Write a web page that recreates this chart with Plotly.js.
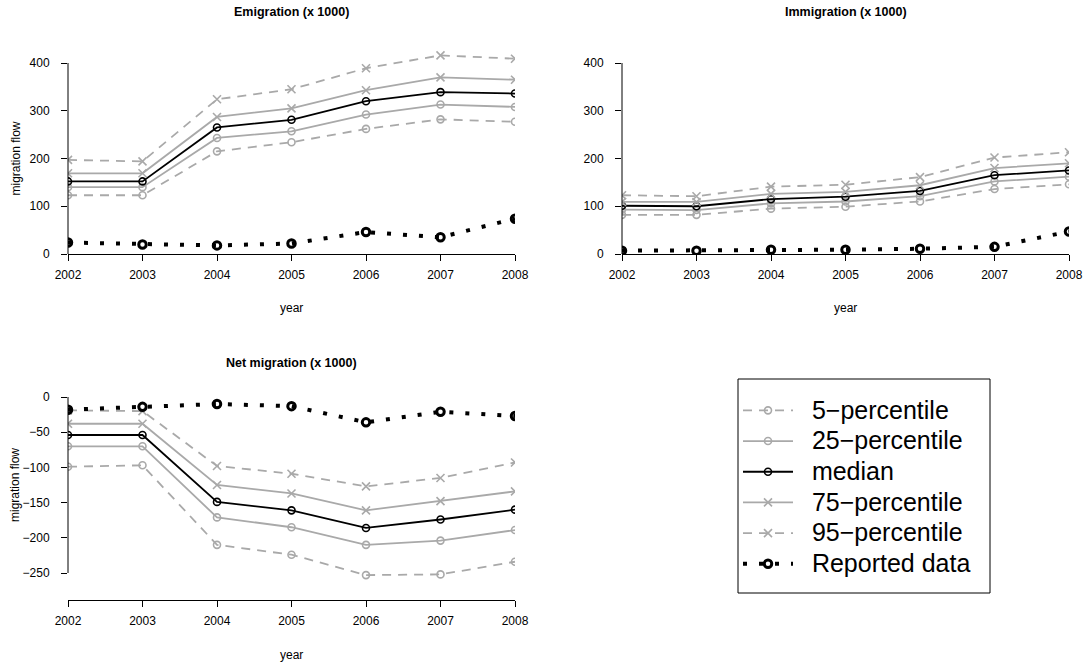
<!DOCTYPE html>
<html><head><meta charset="utf-8">
<script src="https://cdn.plot.ly/plotly-3.0.1.min.js"></script>
<style>html,body{margin:0;padding:0;background:#fff}#chart{width:1089px;height:666px}</style>
</head><body><div id="chart"></div>
<script>
// ---- data ----
const years = [2002, 2003, 2004, 2005, 2006, 2007, 2008];
const seriesNames = ['5\u2212percentile', '25\u2212percentile', 'median', '75\u2212percentile', '95\u2212percentile', 'Reported data'];
const panelTitles = ['Emigration (x 1000)', 'Immigration (x 1000)', 'Net migration (x 1000)'];
const flowTicks = [0, 100, 200, 300, 400];
const netTicks = [-250, -200, -150, -100, -50, 0];

const emigP5 = [123, 123, 215, 234, 262, 282, 277];
const emigP25 = [140, 140, 243, 257, 292, 313, 308];
const emigMedian = [152, 152, 265, 281, 320, 339, 336];
const emigP75 = [169, 169, 287, 305, 343, 370, 365];
const emigP95 = [197, 194, 324, 345, 389, 416, 409];
const emigReported = [24, 20, 18, 22, 46, 35, 74];

const immigP5 = [82, 82, 95, 99, 110, 136, 146];
const immigP25 = [93, 92, 106, 110, 121, 152, 162];
const immigMedian = [101, 100, 115, 120, 132, 165, 175];
const immigP75 = [109, 109, 126, 130, 144, 180, 190];
const immigP95 = [123, 121, 141, 145, 161, 202, 213];
const immigReported = [7, 7, 9, 9, 11, 15, 47];

const netP5 = [-99, -97, -210, -224, -253, -252, -234];
const netP25 = [-70, -70, -171, -185, -210, -204, -189];
const netMedian = [-54, -54, -149, -161, -186, -174, -160];
const netP75 = [-38, -38, -125, -137, -161, -148, -134];
const netP95 = [-19, -20, -98, -109, -127, -115, -93];
const netReported = [-18, -14, -10, -13, -36, -21, -27];

// ---- styles ----
const GREY = '#a9a9a9';
const styles = [
  {color: GREY, dash: '9px,7px', symbol: 'circle-open', width: 1.8, size: 7, mlw: 1.6},
  {color: GREY, dash: 'solid', symbol: 'circle-open', width: 1.8, size: 7, mlw: 1.6},
  {color: '#000000', dash: 'solid', symbol: 'circle-open', width: 1.8, size: 7, mlw: 1.6},
  {color: GREY, dash: 'solid', symbol: 'x-thin-open', width: 1.8, size: 8, mlw: 1.6},
  {color: GREY, dash: '9px,7px', symbol: 'x-thin-open', width: 1.8, size: 8, mlw: 1.6},
  {color: '#000000', dash: '4px,12px', symbol: 'circle-open', width: 4, size: 7.5, mlw: 3}
];

const panels = [
  {xa: 'x', ya: 'y', series: [emigP5, emigP25, emigMedian, emigP75, emigP95, emigReported]},
  {xa: 'x2', ya: 'y2', series: [immigP5, immigP25, immigMedian, immigP75, immigP95, immigReported]},
  {xa: 'x3', ya: 'y3', series: [netP5, netP25, netMedian, netP75, netP95, netReported]}
];

const NB = '\u00a0';
const traces = [];
panels.forEach((p, pi) => {
  p.series.forEach((vals, si) => {
    const s = styles[si];
    traces.push({
      type: 'scatter', mode: 'lines+markers',
      x: years, y: vals, xaxis: p.xa, yaxis: p.ya,
      name: '<span style="font-size:25px">' + NB + NB + seriesNames[si] + NB + NB + '</span>',
      showlegend: pi === 0, legendgroup: 'g' + si,
      line: {color: s.color, dash: s.dash, width: s.width},
      marker: {symbol: s.symbol, size: s.size, color: s.color, line: {color: s.color, width: s.mlw}},
      hoverinfo: 'x+y'
    });
  });
});

// ---- layout ----
const W = 1089, H = 666;
const px = v => v / W;
const py = v => 1 - v / H;

function xAxis(d0, d1) {
  return {domain: [px(d0), px(d1)], range: [years[0], years[years.length - 1]],
    tickvals: years, ticks: 'outside', ticklen: 6, tickcolor: '#000', tickwidth: 1,
    showline: true, linecolor: '#000', linewidth: 1, showgrid: false, zeroline: false,
    ticklabelstandoff: 4, tickfont: {size: 12}, fixedrange: true};
}
function yAxis(anchor, pTop, pBot, vBot, scale, ticks) {
  const vTop = vBot + (pBot - pTop) / scale;
  return {domain: [py(pBot), py(pTop)], range: [vBot, vTop], anchor: anchor,
    tickvals: ticks, ticks: 'outside', ticklen: 6, tickcolor: '#000', tickwidth: 1,
    showline: false, showgrid: false, zeroline: false, ticklabelstandoff: 9,
    tickfont: {size: 12}, fixedrange: true};
}

const axFont = {family: 'Liberation Sans, Arial, sans-serif', size: 12, color: '#000'};
function ann(text, x, y, opts) {
  return Object.assign({text: text, xref: 'paper', yref: 'paper', x: px(x), y: py(y),
    xanchor: 'center', yanchor: 'middle', showarrow: false, font: axFont}, opts || {});
}
const titleFont = {family: 'Liberation Sans, Arial, sans-serif', size: 12.5, color: '#000'};

const layout = {
  width: W, height: H, margin: {l: 0, r: 0, t: 0, b: 0},
  paper_bgcolor: '#ffffff', plot_bgcolor: '#ffffff',
  font: {family: 'Liberation Sans, Arial, sans-serif', size: 12, color: '#000'},
  showlegend: true,
  legend: {x: px(738), y: py(390), xanchor: 'left', yanchor: 'top',
    borderwidth: 0, bgcolor: 'rgba(0,0,0,0)',
    font: {size: 21.3, color: '#000'}, itemwidth: 50, tracegroupgap: 0, traceorder: 'normal'},
  xaxis: xAxis(68, 515),
  yaxis: yAxis('x', 50, 254, 0, 191 / 400, flowTicks),
  xaxis2: Object.assign(xAxis(622, 1069), {anchor: 'y2'}),
  yaxis2: yAxis('x2', 50, 254, 0, 191 / 400, flowTicks),
  xaxis3: Object.assign(xAxis(68, 515), {anchor: 'y3'}),
  yaxis3: yAxis('x3', 390, 600, -(600 - 397) / (176 / 250), 176 / 250, netTicks),
  shapes: [
    {type: 'line', xref: 'x domain', yref: 'y', x0: 0, x1: 0, y0: flowTicks[0], y1: flowTicks[flowTicks.length - 1], line: {color: '#000', width: 1}},
    {type: 'line', xref: 'x2 domain', yref: 'y2', x0: 0, x1: 0, y0: flowTicks[0], y1: flowTicks[flowTicks.length - 1], line: {color: '#000', width: 1}},
    {type: 'line', xref: 'x3 domain', yref: 'y3', x0: 0, x1: 0, y0: netTicks[0], y1: netTicks[netTicks.length - 1], line: {color: '#000', width: 1}},
    {type: 'rect', xref: 'paper', yref: 'paper', x0: px(738), x1: px(990), y0: py(593), y1: py(379), line: {color: '#000', width: 1}, fillcolor: 'rgba(0,0,0,0)', layer: 'below'}
  ],
  annotations: [
    ann('<b>' + panelTitles[0] + '</b>', 291.5, 12, {font: titleFont}),
    ann('<b>' + panelTitles[1] + '</b>', 845.5, 12, {font: titleFont}),
    ann('<b>' + panelTitles[2] + '</b>', 291.5, 363, {font: titleFont}),
    ann('year', 291.5, 308),
    ann('year', 845.5, 308),
    ann('year', 291.5, 655),
    ann('migration flow', 15, 158.5, {textangle: -90}),
    ann('migration flow', 15, 485, {textangle: -90})
  ]
};

Plotly.newPlot('chart', traces, layout, {displayModeBar: false, staticPlot: true});
</script>
</body></html>
